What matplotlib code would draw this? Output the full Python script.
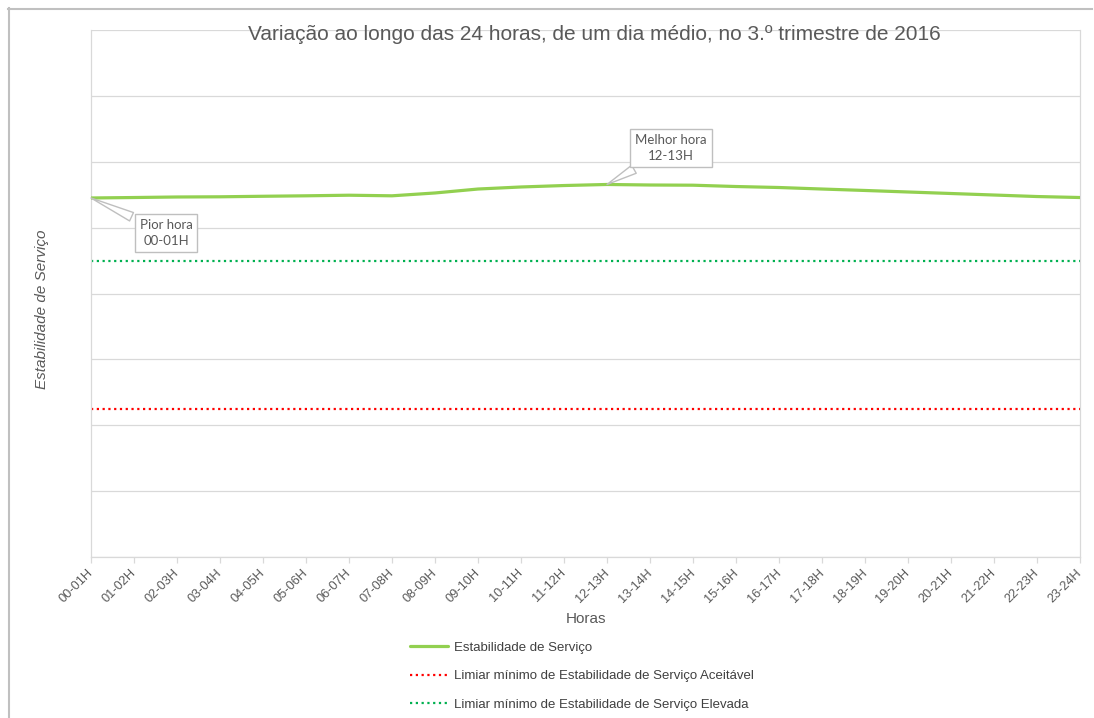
import matplotlib
matplotlib.use("Agg")
import matplotlib.pyplot as plt
from matplotlib.lines import Line2D

hours = ["00-01H", "01-02H", "02-03H", "03-04H", "04-05H", "05-06H", "06-07H", "07-08H",
         "08-09H", "09-10H", "10-11H", "11-12H", "12-13H", "13-14H", "14-15H", "15-16H",
         "16-17H", "17-18H", "18-19H", "19-20H", "20-21H", "21-22H", "22-23H", "23-24H"]
estabilidade = [5.450, 5.457, 5.465, 5.468, 5.476, 5.483, 5.492, 5.483,
                5.526, 5.586, 5.617, 5.639, 5.655, 5.647, 5.644, 5.624,
                5.609, 5.586, 5.564, 5.541, 5.518, 5.495, 5.472, 5.457]
limiar_aceitavel = 2.247
limiar_elevada = 4.493
y_max = 8

title = "Variação ao longo das 24 horas, de um dia médio, no 3.º trimestre de 2016"
labels = ["Estabilidade de Serviço",
          "Limiar mínimo de Estabilidade de Serviço Aceitável",
          "Limiar mínimo de Estabilidade de Serviço Elevada"]

plt.rcParams['font.family'] = ['Liberation Sans', 'DejaVu Sans']
W, H = 1094, 718
fig = plt.figure(figsize=(W / 100, H / 100), dpi=100)
ax = fig.add_axes([91 / W, 1 - 557 / H, (1080 - 91) / W, (557 - 30) / H])

x = list(range(len(hours)))
grid_c = "#d9d9d9"
text_c = "#595959"

ax.set_xlim(0, len(hours) - 1)
ax.set_ylim(0, y_max)
ax.set_yticks(range(0, y_max + 1))
ax.yaxis.grid(True, color=grid_c, lw=0.9)
ax.set_axisbelow(True)
ax.tick_params(axis='y', length=0, labelleft=False)
ax.set_xticks(x)
ax.set_xticklabels(hours, rotation=45, ha='right', va='center', rotation_mode='anchor',
                   fontsize=9.2, color=text_c)
ax.tick_params(axis='x', length=4, color=grid_c, width=0.9, pad=6)
ax.spines['top'].set_visible(False)
for s in ['left', 'bottom', 'right']:
    ax.spines[s].set_color(grid_c)
    ax.spines[s].set_linewidth(0.9)

l1, = ax.plot(x, estabilidade, color="#92D050", lw=2.3, solid_capstyle='round', zorder=3)
l2 = ax.axhline(limiar_aceitavel, color="#FF0000", lw=1.6, ls=(0, (1, 1.6)), zorder=2)
l3 = ax.axhline(limiar_elevada, color="#00B050", lw=1.6, ls=(0, (1, 1.6)), zorder=2)

ax.set_xlabel("Horas", fontsize=11, color=text_c, labelpad=5)
fig.text(42 / W, 1 - 309 / H, "Estabilidade de Serviço", rotation=90, style='italic',
         fontsize=11, color=text_c, ha='center', va='center')
fig.text(594 / W, 1 - 35 / H, title, fontsize=15, color=text_c, ha='center', va='center')

# callouts
worst = min(range(len(x)), key=lambda i: estabilidade[i])
best = max(range(len(x)), key=lambda i: estabilidade[i])
box = dict(boxstyle="square,pad=0.38", fc="white", ec="#bfbfbf", lw=1)
arrow = dict(arrowstyle="wedge,tail_width=0.7,shrink_factor=0.5", fc="white",
             ec="#bfbfbf", lw=1, shrinkB=0)
ax.annotate("Pior hora\n" + hours[worst], xy=(x[worst], estabilidade[worst]),
            xytext=(54, -25), textcoords='offset points', ha='center', va='center',
            fontsize=9.5, family='Lato', color=text_c, bbox=box, arrowprops=arrow,
            linespacing=1.4, zorder=5)
ax.annotate("Melhor hora\n" + hours[best], xy=(x[best], estabilidade[best]),
            xytext=(46, 26), textcoords='offset points', ha='center', va='center',
            fontsize=9.5, family='Lato', color=text_c, bbox=box, arrowprops=arrow,
            linespacing=1.4, zorder=5)

leg = fig.legend([l1, l2, l3], labels, loc='upper left',
                 bbox_to_anchor=(398 / W, 1 - 630 / H), frameon=False,
                 fontsize=9.5, handlelength=2.9, labelspacing=1.22, handletextpad=0.45)
for t in leg.get_texts():
    t.set_color("#404040")

# outer frame (top and left edges)
fig.add_artist(Line2D([8 / W, 1092 / W], [1 - 8.5 / H, 1 - 8.5 / H], transform=fig.transFigure,
                      color="#c0c0c0", lw=1.5))
fig.add_artist(Line2D([8.5 / W, 8.5 / W], [0, 1 - 8 / H], transform=fig.transFigure,
                      color="#c0c0c0", lw=1.5))

fig.savefig("out.png", dpi=100)
